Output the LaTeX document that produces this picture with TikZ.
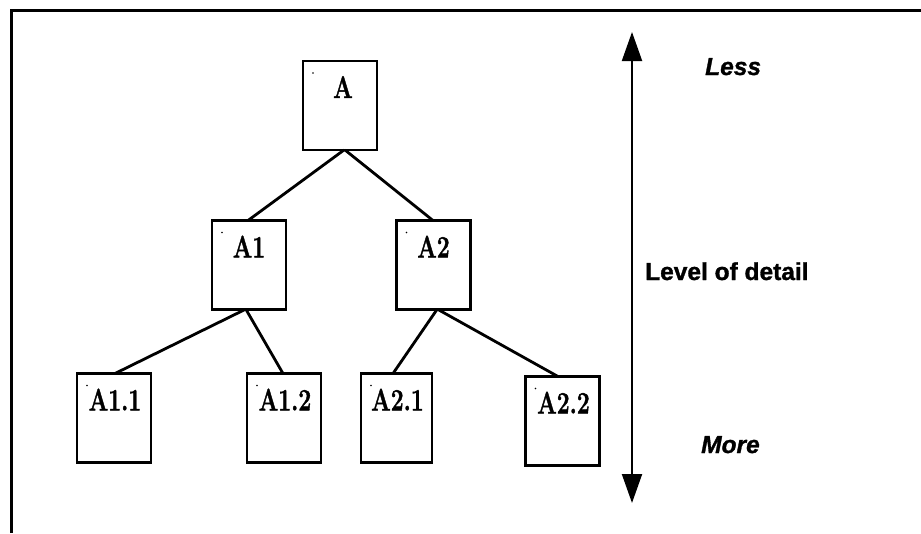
\documentclass[tikz,border=0pt]{standalone}
\usepackage{fontspec}
\usepackage{graphicx}
\newfontfamily\sidefont{Liberation Sans}[BoldFeatures={FakeBold=1.2}, BoldItalicFeatures={FakeBold=1.2}]
\newfontfamily\titlefont{Latin Modern Roman}[BoldFeatures={FakeBold=1.6}]
\usetikzlibrary{arrows.meta}

\begin{document}
\begin{tikzpicture}[x=1pt,y=-1pt,
  tbox/.style={draw, line width=2.2pt, minimum width=74pt, minimum height=89pt,
               inner sep=0pt, outer sep=0pt},
  narrowbox/.style={tbox, minimum width=71pt},
  link/.style={line width=2.8pt},
  lbl/.style={font=\titlefont\bfseries\fontsize{31}{31}\selectfont, inner sep=0pt},
  side/.style={font=\sidefont\bfseries\fontsize{24.5}{24.5}\selectfont,
               anchor=base west, inner sep=0pt},
  speck/.style={fill=black}]
\useasboundingbox (0,0) rectangle (921,533);

% frame along the left and top edges
\draw[line width=3pt] (11,533) -- (11,10) -- (921,10);

% tree boxes
\node[tbox] (A)   at (340,105.5) {};
\node[tbox] (A1)  at (249,265)   {};
\node[tbox] (A2)  at (433.5,265) {};
\node[tbox] (A11) at (114,418)   {};
\node[tbox] (A12) at (284,418)   {};
\node[narrowbox] (A21) at (396.5,418) {};
\node[tbox] (A22) at (562.5,421) {};

% box titles
\foreach \n/\ttl/\dx in {A/A/3, A1/A1/0, A2/A2/0, A11/A1.1/1, A12/A1.2/1, A21/A2.1/1, A22/A2.2/1}{
  \node[lbl] (\n-t) at ([xshift=\dx pt,yshift=-26pt]\n.north) {\scalebox{0.74}[1]{\ttl}};
  \fill[speck] ([xshift=10pt,yshift=-12pt]\n.north west) circle (0.9pt);
}

% connectors
\draw[link] ([xshift=4pt]A.south)  -- ([xshift=-1pt]A1.north);
\draw[link] ([xshift=5pt]A.south)  -- ([xshift=-0.5pt]A2.north);
\draw[link] ([xshift=-4pt]A1.south) -- ([xshift=1pt]A11.north);
\draw[link] ([xshift=-3pt]A1.south) -- ([xshift=-1pt]A12.north);
\draw[link] ([xshift=3.5pt]A2.south) -- ([xshift=-3.5pt]A21.north);
\draw[link] ([xshift=4.5pt]A2.south) -- ([xshift=-4.5pt]A22.north);

% level-of-detail scale
\coordinate (less end) at (632,32);
\coordinate (more end) at (632,503);
\draw[line width=2pt,
      {Triangle[length=29pt,width=20pt]}-{Triangle[length=29pt,width=20pt]}]
  (less end) -- (more end);

\node[side] (less)  at (705,75)  {\itshape Less};
\node[side] (level) at (645,280) {Level of detail};
\node[side] (more)  at (701,453) {\itshape More};
\end{tikzpicture}
\end{document}
